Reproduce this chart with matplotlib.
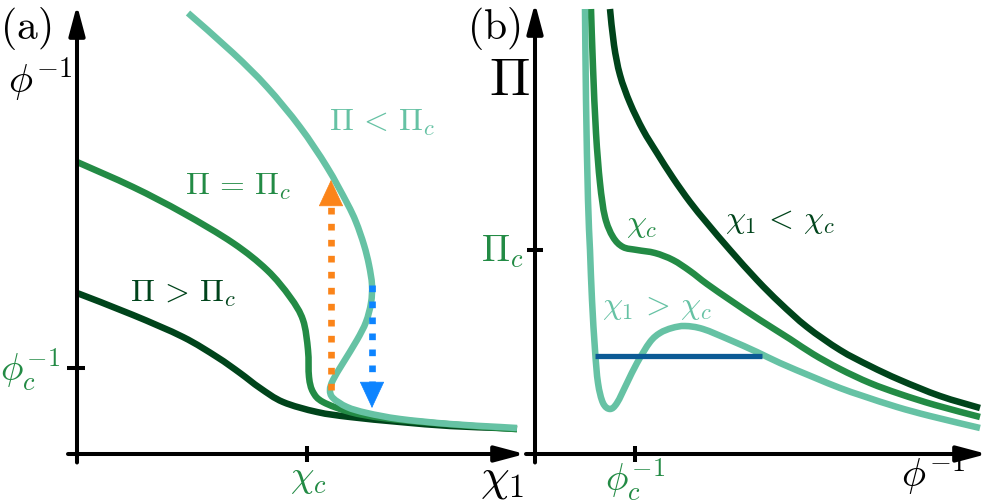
"""Schematic: phi^-1 vs chi_1 isobars (a) and Pi vs phi^-1 isotherms (b)."""

import matplotlib.pyplot as plt
from matplotlib.path import Path
from matplotlib.patches import PathPatch

plt.rcParams["mathtext.fontset"] = "cm"
plt.rcParams["font.family"] = "serif"

DARK = "#00441b"
MID = "#238b45"
LIGHT = "#66c2a4"
ORANGE = "#fb8419"
BLUE = "#0d84ff"
NAVY = "#0b5a95"

# ---- panel (a): phi^-1 against chi_1, arbitrary units (chi_c = 2.30, phi_c^-1 = 0.86)
chi_c = 2.30
phic_inv_a = 0.86

a_high_x = [0.00, 0.56, 1.06, 1.40, 1.63, 1.83, 2.06, 2.40, 2.73, 3.23, 3.73, 4.23, 4.40]
a_high_y = [1.61, 1.39, 1.17, 0.97, 0.81, 0.66, 0.52, 0.42, 0.37, 0.32, 0.28, 0.26, 0.25]

a_crit_x = [0.00, 0.56, 1.06, 1.56, 1.90, 2.13, 2.26, 2.31, 2.32, 2.36, 2.46, 2.73, 3.06, 3.56,
            4.23, 4.40]
a_crit_y = [2.92, 2.67, 2.41, 2.11, 1.84, 1.57, 1.34, 1.04, 0.77, 0.62, 0.52, 0.42, 0.36, 0.31,
            0.26, 0.25]

a_low_x = [1.11, 1.56, 1.90, 2.23, 2.50, 2.70, 2.79, 2.87, 2.92, 2.95, 2.94, 2.89, 2.80, 2.66,
           2.56, 2.53, 2.56, 2.70, 2.90, 3.23, 3.73, 4.23, 4.40]
a_low_y = [4.41, 4.01, 3.67, 3.27, 2.87, 2.51, 2.32, 2.09, 1.89, 1.69, 1.51, 1.32, 1.14, 0.91,
           0.74, 0.64, 0.56, 0.47, 0.41, 0.35, 0.30, 0.27, 0.26]

# jumps: (x, start y, tip y)
jump_up = (2.54, 0.64, 2.74)
jump_down = (2.95, 1.69, 0.46)

# ---- panel (b): Pi against phi^-1 (phi_c^-1 = 1.00, Pi_c = 2.04)
phic_inv_b = 1.00
pi_c = 2.04

b_low_x = [0.75, 0.79, 0.85, 0.95, 1.08, 1.22, 1.38, 1.55, 1.72, 1.95, 2.22, 2.45, 2.72, 3.05,
           3.35, 3.65, 4.05, 4.45]
b_low_y = [4.45, 4.09, 3.79, 3.51, 3.24, 3.01, 2.76, 2.52, 2.31, 2.04, 1.74, 1.51, 1.27, 1.04,
           0.88, 0.74, 0.58, 0.46]

b_crit_x = [0.56, 0.58, 0.61, 0.65, 0.70, 0.78, 0.88, 1.02, 1.20, 1.38, 1.55, 1.72, 1.98, 2.25,
            2.55, 2.78, 3.05, 3.35, 3.65, 4.00, 4.45]
b_crit_y = [4.45, 3.87, 3.21, 2.71, 2.37, 2.17, 2.07, 2.04, 2.01, 1.94, 1.83, 1.70, 1.52, 1.34,
            1.15, 1.00, 0.85, 0.71, 0.60, 0.49, 0.37]

b_high_x = [0.50, 0.51, 0.53, 0.55, 0.57, 0.60, 0.63, 0.68, 0.75, 0.82, 0.92, 1.02, 1.15, 1.25,
            1.37, 1.50, 1.68, 1.95, 2.22, 2.45, 2.78, 3.05, 3.28, 3.62, 3.95, 4.45]
b_high_y = [4.45, 3.54, 2.54, 2.04, 1.54, 1.04, 0.71, 0.51, 0.45, 0.51, 0.71, 0.91, 1.12, 1.21,
            1.26, 1.28, 1.25, 1.14, 1.02, 0.91, 0.77, 0.66, 0.58, 0.47, 0.38, 0.26]

maxwell_x = [0.60, 2.27]
maxwell_y = [0.98, 0.98]

W, H = 988, 504
LW = 4.7


def smooth_line(ax, xs, ys, color, lw=LW):
    """Draw the read points as a Catmull-Rom curve (bezier segments through every point)."""
    pts = list(zip(xs, ys))
    ext = [pts[0]] + pts + [pts[-1]]
    verts = [pts[0]]
    codes = [Path.MOVETO]
    for i in range(1, len(ext) - 2):
        p0, p1, p2, p3 = ext[i - 1], ext[i], ext[i + 1], ext[i + 2]
        c1 = (p1[0] + (p2[0] - p0[0]) / 6, p1[1] + (p2[1] - p0[1]) / 6)
        c2 = (p2[0] - (p3[0] - p1[0]) / 6, p2[1] - (p3[1] - p1[1]) / 6)
        verts += [c1, c2, p2]
        codes += [Path.CURVE4] * 3
    ax.add_patch(PathPatch(Path(verts, codes), fill=False, edgecolor=color, lw=lw,
                           capstyle="butt", joinstyle="round"))


def draw_axes(ax, x_end, y_end):
    """Black axes with arrow heads, crossing at the origin."""
    style = "-|>,head_length=0.9,head_width=0.24"
    ax.annotate("", xy=(x_end, 0), xytext=(-0.09, 0),
                arrowprops=dict(arrowstyle=style, color="k", lw=2.9,
                                shrinkA=0, shrinkB=0, mutation_scale=20))
    ax.annotate("", xy=(0, y_end), xytext=(0, -0.085),
                arrowprops=dict(arrowstyle=style, color="k", lw=2.9,
                                shrinkA=0, shrinkB=0, mutation_scale=20))


def dotted_arrow(ax, x, y0, y1, color):
    head = 0.25 if y1 > y0 else -0.25
    ax.plot([x, x], [y0, y1 - head], color=color, lw=4.8,
            linestyle=(0, (1.0, 1.4)), solid_capstyle="butt", dash_capstyle="butt")
    ax.annotate("", xy=(x, y1), xytext=(x, y1 - head * 1.02),
                arrowprops=dict(arrowstyle="-|>,head_length=0.9,head_width=0.42",
                                color=color, lw=0.5, shrinkA=0, shrinkB=0,
                                mutation_scale=20))


fig = plt.figure(figsize=(W / 100, H / 100), dpi=100)
axa = fig.add_axes([0, 0, 1, 1])
axb = fig.add_axes([0, 0, 1, 1])
for ax in (axa, axb):
    ax.set_axis_off()
    ax.patch.set_alpha(0)
axa.set_xlim(-0.77, (W - 77) / 100)
axb.set_xlim(-5.35, (W - 535) / 100)
for ax in (axa, axb):
    ax.set_ylim(-0.50, 4.54)

# panel (a)
draw_axes(axa, 4.48, 4.49)
axa.plot([chi_c, chi_c], [-0.08, 0.08], color="k", lw=2.9, solid_capstyle="butt")
axa.plot([-0.10, 0.08], [phic_inv_a, phic_inv_a], color="k", lw=2.9, solid_capstyle="butt")
smooth_line(axa, a_high_x, a_high_y, DARK)
smooth_line(axa, a_crit_x, a_crit_y, MID)
smooth_line(axa, a_low_x, a_low_y, LIGHT)
dotted_arrow(axa, jump_up[0], jump_up[1], jump_up[2], ORANGE)
dotted_arrow(axa, jump_down[0], jump_down[1], jump_down[2], BLUE)

# panel (b)
draw_axes(axb, 4.52, 4.51)
axb.plot([phic_inv_b, phic_inv_b], [-0.08, 0.08], color="k", lw=2.9, solid_capstyle="butt")
axb.plot([-0.08, 0.08], [pi_c, pi_c], color="k", lw=2.9, solid_capstyle="butt")
smooth_line(axb, b_low_x, b_low_y, DARK)
smooth_line(axb, b_crit_x, b_crit_y, MID)
smooth_line(axb, b_high_x, b_high_y, LIGHT)
axb.plot(maxwell_x, maxwell_y, color=NAVY, lw=3.8, solid_capstyle="butt")


def label(x, y, s, size, color="k", ha="center"):
    fig.text(x / W, 1 - y / H, s, fontsize=size, color=color, ha=ha, va="center")


label(26, 28, r"$\mathrm{(a)}$", 30)
label(40, 80, r"$\phi^{-1}$", 29)
label(30, 370, r"$\phi_c^{-1}$", 27, MID)
label(308, 478, r"$\chi_c$", 27, MID)
label(502, 478, r"$\chi_1$", 33)
label(382, 122, r"$\Pi\,<\,\Pi_c$", 23, LIGHT)
label(238, 186, r"$\Pi\,=\,\Pi_c$", 23, MID)
label(183, 293, r"$\Pi\,>\,\Pi_c$", 23, DARK)

label(494, 28, r"$\mathrm{(b)}$", 30)
label(509, 80, r"$\Pi$", 39)
label(524, 252, r"$\Pi_c$", 27, MID, ha="right")
label(635, 480, r"$\phi_c^{-1}$", 27, MID)
label(933, 474, r"$\phi^{-1}$", 29)
label(642, 224, r"$\chi_c$", 23, MID)
label(780, 220, r"$\chi_1\,<\,\chi_c$", 23, DARK)
label(657, 306, r"$\chi_1\,>\,\chi_c$", 23, LIGHT)

fig.savefig("out.png", dpi=100)
